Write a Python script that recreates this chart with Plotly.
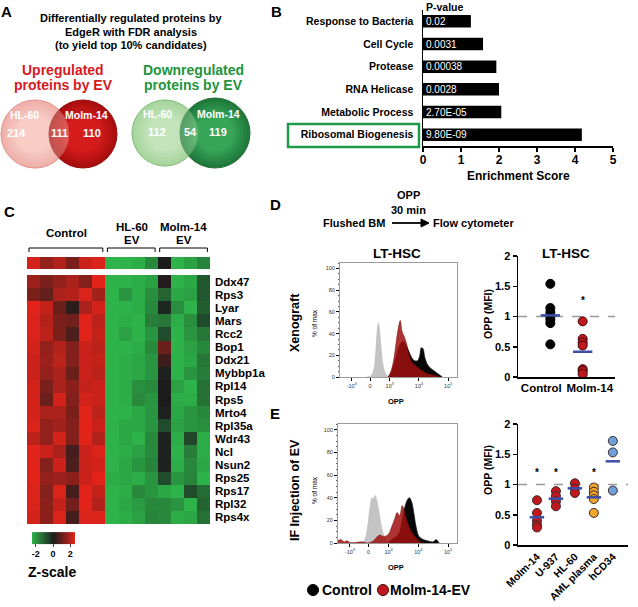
import numpy as np
import plotly.graph_objects as go

W, H = 638, 607
FONT = "Liberation Sans, Arial, Helvetica, sans-serif"


def X(p):
    return p / W


def Y(p):
    return 1 - p / H


# ---------------- data ----------------
venn_sets = ["HL-60", "Molm-14"]
venn_up_counts = [214, 111, 110]      # HL-60 only, shared, Molm-14 only
venn_down_counts = [112, 54, 119]

go_terms = ["Response to Bacteria", "Cell Cycle", "Protease", "RNA Helicase",
            "Metabolic Process", "Ribosomal Biogenesis"]
enrichment = [1.26, 1.58, 1.93, 2.0, 2.06, 4.18]
go_pvalues = ["0.02", "0.0031", "0.00038", "0.0028", "2.70E-05", "9.80E-09"]

genes = ["Ddx47", "Rps3", "Lyar", "Mars", "Rcc2", "Bop1", "Ddx21", "Mybbp1a", "Rpl14",
         "Rps5", "Mrto4", "Rpl35a", "Wdr43", "Ncl", "Nsun2", "Rps25", "Rps17", "Rpl32", "Rps4x"]
sample_groups = ["Control"] * 6 + ["HL-60<br>EV"] * 4 + ["Molm-14<br>EV"] * 4
z_summary = [2.3, 1.5, 1.9, 1.2, 2.2, 2.4, -2.5, -2.5, -2.4, -1.8, 0.0, -2.5, -2.2, -1.7]
z_genes = [
    [1.6, 1.2, 1.5, 1.8, 1.3, 2.5, -2.5, -2.5, -2.4, -2.2, 0.1, -2.5, -2.3, -1.0],
    [1.2, 0.9, 1.8, 1.9, 2.4, 1.7, -2.5, -2.0, -2.4, -1.9, -1.2, -2.3, -2.2, -1.0],
    [2.6, 2.1, 1.0, 0.2, 1.8, 2.3, -2.5, -2.5, -2.4, -1.8, -0.2, -1.9, -2.6, -1.1],
    [2.4, 1.9, 1.2, 1.1, 2.5, 2.0, -2.5, -2.4, -2.5, -1.6, -1.5, -2.4, -1.9, -0.8],
    [2.4, 2.0, 1.2, 0.6, 2.5, 2.1, -2.5, -2.2, -2.5, -2.0, -0.8, -2.5, -2.0, -1.5],
    [2.3, 1.5, 1.9, 1.3, 2.2, 2.0, -2.5, -2.5, -2.4, -1.8, 1.0, -2.5, -2.2, -1.8],
    [2.2, 1.6, 2.0, 1.3, 2.2, 2.1, -2.5, -2.4, -2.3, -2.0, 0.4, -2.5, -2.3, -1.5],
    [2.2, 1.5, 1.8, 1.0, 2.2, 2.0, -2.5, -2.4, -2.3, -2.0, -0.1, -2.5, -2.0, -1.6],
    [2.3, 1.2, 1.8, 1.4, 2.1, 2.2, -2.5, -2.4, -1.9, -1.8, 0.0, -2.2, -2.6, -1.4],
    [2.3, 1.0, 2.3, 1.3, 2.3, 2.2, -2.5, -2.4, -1.8, -2.0, 0.0, -2.4, -2.4, -1.4],
    [2.3, 1.8, 1.8, 1.2, 2.6, 2.0, -2.5, -2.5, -2.3, -2.0, -0.1, -2.3, -2.0, -1.8],
    [2.4, 1.5, 1.7, 1.3, 2.5, 2.2, -2.5, -2.3, -2.3, -2.0, -0.8, -2.2, -2.0, -1.9],
    [2.0, 1.5, 2.3, 1.3, 2.6, 1.9, -2.5, -2.3, -2.5, -1.8, -0.1, -2.4, -0.7, -2.4],
    [2.8, 2.2, 1.8, 0.5, 2.2, 2.4, -2.5, -2.4, -2.2, -1.8, -0.1, -2.5, -1.6, -2.4],
    [2.6, 1.3, 2.2, 0.6, 2.2, 2.3, -2.5, -2.3, -2.0, -1.7, -0.1, -2.4, -1.8, -2.3],
    [2.5, 1.5, 1.6, 1.4, 2.2, 2.5, -2.4, -2.3, -2.4, -2.0, -0.8, -2.0, -1.7, -2.6],
    [2.4, 1.3, 2.4, 0.5, 2.7, 2.1, -2.5, -2.4, -1.8, -2.0, -2.3, -2.5, -0.8, -1.3],
    [2.4, 1.4, 2.1, 1.1, 2.8, 1.9, -2.5, -2.3, -2.1, -1.8, -1.8, -2.0, -2.5, -1.2],
    [2.3, 1.4, 2.4, 0.5, 2.4, 2.4, -2.5, -2.4, -2.2, -1.7, -1.8, -2.4, -2.3, -1.4],
]

# flow histograms (x in biexponential display units, y = % of max)
hist_tickvals = [1.7, 2.33, 3, 4, 5]
hist_ticktext = ["-10<sup>3</sup>", "0", "10<sup>3</sup>", "10<sup>4</sup>", "10<sup>5</sup>"]
d_grey_x = [2.2, 2.35, 2.45, 2.52, 2.57, 2.61, 2.65, 2.7, 2.78, 2.88, 2.98]
d_grey_y = [0, 1, 6, 22, 42, 50, 44, 28, 10, 2, 0]
d_ctrl_x = [2.95, 3.05, 3.15, 3.25, 3.35, 3.45, 3.55, 3.65, 3.75, 3.85, 3.95, 4.02, 4.08, 4.14,
            4.2, 4.3, 4.4, 4.5, 4.6, 4.7, 4.8]
d_ctrl_y = [0, 4, 12, 22, 30, 33, 30, 24, 18, 15, 15, 19, 27, 26, 18, 11, 8, 6, 4, 2, 0]
d_ev_x = [2.95, 3.05, 3.15, 3.22, 3.3, 3.36, 3.42, 3.5, 3.58, 3.66, 3.75, 3.85, 3.95, 4.05,
          4.15, 4.3, 4.45, 4.6, 4.7]
d_ev_y = [0, 6, 18, 32, 46, 52, 42, 37, 30, 20, 14, 11, 9, 7, 5, 3, 2, 1, 0]
e_grey_x = [2.1, 2.2, 2.3, 2.38, 2.45, 2.5, 2.55, 2.6, 2.66, 2.72, 2.8, 2.9, 3.0]
e_grey_y = [0, 3, 15, 32, 40, 39, 42, 38, 30, 20, 10, 3, 0]
e_ctrl_x = [3.0, 3.1, 3.34, 3.44, 3.53, 3.63, 3.7, 3.78, 3.84, 3.92, 4.02, 4.17, 4.3, 4.5,
            4.6, 4.7]
e_ctrl_y = [0, 3, 8, 18, 30, 38, 40, 36, 28, 15, 6, 3, 2, 1, 3, 0]
e_ev_x = [1.3, 1.4, 1.5, 1.6, 1.7, 1.9, 2.1, 2.3, 2.5, 2.6, 2.7, 2.8, 2.9, 3.0, 3.1, 3.19,
          3.29, 3.37, 3.46, 3.51, 3.61, 3.73, 3.87, 4.02, 4.12]
e_ev_y = [2, 3, 1, 2, 0.5, 0.5, 1, 0, 2, 5, 7, 6, 6, 8, 14, 20, 27, 24, 33, 30, 20, 12, 6, 2, 0]

# OPP MFI dot plots
d_groups = ["Control", "Molm-14"]
d_control = [1.54, 1.14, 1.07, 1.0, 0.95, 0.89, 0.54]
d_molm = [0.92, 0.63, 0.57, 0.52, 0.13, 0.1, 0.05]
d_sig = ["", "*"]
legend_names = ["Control", "Molm-14-EV"]

e_groups = ["Molm-14", "U-937", "HL-60", "AML plasma", "hCD34"]
e_values = [
    [0.74, 0.53, 0.40, 0.33, 0.29],
    [0.89, 0.81, 0.72, 0.64],
    [1.02, 0.93, 0.86],
    [0.95, 0.88, 0.82, 0.76, 0.53],
    [1.72, 1.53, 0.90],
]
e_colors = ["#c0181e", "#c0181e", "#c0181e", "#f2a52b", "#6f9fd8"]
e_sig = ["*", "*", "", "*", ""]

# ---------------- figure ----------------
fig = go.Figure()
BOLD = dict(family=FONT, color="black", weight="bold")
RED = "#c0181e"

# B: enrichment bars
fig.add_trace(go.Bar(
    x=enrichment, y=go_terms, orientation="h", marker=dict(color="black", line=dict(width=0)),
    width=0.55, text=go_pvalues, textposition="inside", insidetextanchor="start",
    textfont=dict(family=FONT, color="white", size=10), constraintext="none",
    xaxis="x", yaxis="y", showlegend=False, hoverinfo="skip"))

# C: heatmaps
ncol = len(sample_groups)
fig.add_trace(go.Heatmap(z=z_genes, x=list(range(ncol)), y=genes, coloraxis="coloraxis",
                         xaxis="x2", yaxis="y2", hoverinfo="skip"))
fig.add_trace(go.Heatmap(z=[z_summary], x=list(range(ncol)), y=["all"], coloraxis="coloraxis",
                         xaxis="x3", yaxis="y3", hoverinfo="skip"))

# D/E histograms
def hist(xs, ys, fill, line, xa, ya):
    fig.add_trace(go.Scatter(x=xs, y=ys, mode="lines", fill="tozeroy", fillcolor=fill,
                             line=dict(color=line, width=0.6, shape="spline"),
                             xaxis=xa, yaxis=ya, showlegend=False, hoverinfo="skip"))

hist(d_grey_x, d_grey_y, "#c4c4c4", "#b8b8b8", "x4", "y4")
hist(d_ctrl_x, d_ctrl_y, "#080808", "#080808", "x4", "y4")
hist(d_ev_x, d_ev_y, "rgba(160,15,15,0.85)", "rgba(120,10,10,0.9)", "x4", "y4")
hist(e_grey_x, e_grey_y, "#c4c4c4", "#b8b8b8", "x5", "y5")
hist(e_ctrl_x, e_ctrl_y, "#080808", "#080808", "x5", "y5")
hist(e_ev_x, e_ev_y, "rgba(160,15,15,0.85)", "rgba(120,10,10,0.9)", "x5", "y5")

# D dot plot
MK = 9
fig.add_trace(go.Scatter(x=[1] * len(d_control), y=d_control, mode="markers",
                         marker=dict(size=MK, color="black", line=dict(color="black", width=1)),
                         xaxis="x6", yaxis="y6", showlegend=False, hoverinfo="skip"))
fig.add_trace(go.Scatter(x=[2] * len(d_molm), y=d_molm, mode="markers",
                         marker=dict(size=MK, color=RED, line=dict(color="#3a0a0a", width=1)),
                         xaxis="x6", yaxis="y6", showlegend=False, hoverinfo="skip"))
for i, vals in enumerate([d_control, d_molm]):
    m = float(np.mean(vals))
    fig.add_trace(go.Scatter(x=[i + 1 - 0.3, i + 1 + 0.3], y=[m, m], mode="lines",
                             line=dict(color="#3d4ea6", width=2.5), xaxis="x6", yaxis="y6",
                             showlegend=False, hoverinfo="skip"))

# E dot plot
for i, vals in enumerate(e_values):
    fig.add_trace(go.Scatter(x=[i] * len(vals), y=vals, mode="markers",
                             marker=dict(size=MK, color=e_colors[i], line=dict(color="#3a2a2a", width=1)),
                             xaxis="x7", yaxis="y7", showlegend=False, hoverinfo="skip"))
    m = float(np.mean(vals))
    fig.add_trace(go.Scatter(x=[i - 0.38, i + 0.38], y=[m, m], mode="lines",
                             line=dict(color="#3d4ea6", width=2.5), xaxis="x7", yaxis="y7",
                             showlegend=False, hoverinfo="skip"))

shapes = []
ann = []


def text(x, y, s, size, color="black", bold=True, xanchor="center", angle=0, ref=("paper", "paper")):
    ann.append(dict(x=x, y=y, xref=ref[0], yref=ref[1], text=(f"<b>{s}</b>" if bold else s),
                    showarrow=False, xanchor=xanchor, yanchor="middle", textangle=angle,
                    font=dict(family=FONT, size=size, color=color)))


def mix(c1, c2, t):
    a = [int(c1[i:i + 2], 16) for i in (1, 3, 5)]
    b = [int(c2[i:i + 2], 16) for i in (1, 3, 5)]
    return "#" + "".join(f"{round(u + (v - u) * t):02x}" for u, v in zip(a, b))


def shaded_circle(cx, cy, r, edge, centre, line, n=6):
    # a soft radial shading built from concentric discs
    for k in range(n):
        rr = r * (1 - 0.45 * k / (n - 1))
        shapes.append(dict(type="circle", xref="x8", yref="y8", x0=cx - rr, x1=cx + rr,
                           y0=cy - rr, y1=cy + rr, fillcolor=mix(edge, centre, k / (n - 1)),
                           line=dict(color=line if k == 0 else "rgba(0,0,0,0)", width=1)))


# ---- panel A: Venn diagrams (axis x8/y8 in pixel units) ----
def venn(cxl, cxr, cy, rl, rr, left_cols, right_cols, counts, name_x, count_x):
    shaded_circle(cxl, cy, rl, *left_cols)
    shaded_circle(cxr, cy, rr, *right_cols)
    shapes.append(dict(type="circle", xref="x8", yref="y8", x0=cxl - rl, x1=cxl + rl,
                       y0=cy - rl, y1=cy + rl, fillcolor=left_cols[1], opacity=0.35,
                       line=dict(color=left_cols[2], width=1)))
    for nx, s in zip(name_x, venn_sets):
        text(nx, cy - 19, s, 10.5, "white", ref=("x8", "y8"))
    for cx, c in zip(count_x, counts):
        text(cx, cy - 1, str(c), 11, "white", ref=("x8", "y8"))


venn(35, 83, 134, 34, 34, ("#eba39a", "#f7cdc6", "#e3968d"), ("#a80e0e", "#d41c1c", "#9a0c0c"),
     venn_up_counts, (24, 86), (16, 59, 92))
venn(165, 215, 133, 33, 35, ("#98cd8e", "#c3e4bb", "#86bf7c"), ("#207a3c", "#36a558", "#1e6e36"),
     venn_down_counts, (157, 218), (157, 190, 218))

text(X(6), Y(12), "A", 15)
text(X(131), Y(18), "Differentially regulated proteins by", 11)
text(X(131), Y(32), "EdgeR with FDR analysis", 11)
text(X(131), Y(45), "(to yield top 10% candidates)", 11)
text(X(63), Y(70), "Upregulated", 14, "#d7191f")
text(X(63), Y(85), "proteins by EV", 14, "#d7191f")
text(X(193), Y(70), "Downregulated", 14, "#23943b")
text(X(193), Y(85), "proteins by EV", 14, "#23943b")

# ---- panel B ----
text(X(276), Y(11), "B", 15)
text(X(445), Y(7), "P-value", 10.5)
text(X(518), Y(176), "Enrichment Score", 12)
shapes.append(dict(type="rect", xref="paper", yref="paper", x0=X(288), x1=X(419),
                   y0=Y(147), y1=Y(124), line=dict(color="#1f9a48", width=2.5)))

# ---- panel C ----
text(X(9), Y(211), "C", 15)
groups = []
for i, g in enumerate(sample_groups):
    if not groups or groups[-1][0] != g:
        groups.append([g, i, i])
    else:
        groups[-1][2] = i
for g, a, b in groups:
    lines = g.split("<br>")
    cx = (a + b) / 2
    if len(lines) == 1:
        text(cx, Y(233), lines[0], 11.5, ref=("x2", "paper"))
    else:
        text(cx, Y(227), lines[0], 11.5, ref=("x2", "paper"))
        text(cx, Y(240), lines[1], 11.5, ref=("x2", "paper"))
    shapes.append(dict(type="path", xref="x2", yref="paper",
                       path=f"M {a - 0.35},{Y(252)} L {a - 0.35},{Y(248)} L {b + 0.3},{Y(248)} L {b + 0.3},{Y(252)}",
                       line=dict(color="black", width=1)))
text(X(52), Y(572), "Z-scale", 14)

# ---- panel D ----
text(X(275), Y(204), "D", 15)
text(X(408), Y(195), "OPP", 11)
text(X(408), Y(210), "30 min", 11)
text(X(354), Y(223), "Flushed BM", 11)
text(X(473), Y(223), "Flow cytometer", 11)
shapes.append(dict(type="line", xref="paper", yref="paper", x0=X(392), x1=X(423),
                   y0=Y(223), y1=Y(223), line=dict(color="black", width=1.8)))
shapes.append(dict(type="path", xref="paper", yref="paper",
                   path=f"M {X(421)},{Y(219)} L {X(429)},{Y(223)} L {X(421)},{Y(227)} Z",
                   fillcolor="black", line=dict(color="black", width=1)))
text(X(397), Y(254), "LT-HSC", 13.5)
text(X(566), Y(254), "LT-HSC", 13.5)
text(X(295), Y(323), "Xenograft", 12.5, angle=-90)
text(X(314), Y(323), "% of max", 6.5, bold=False, angle=-90)
text(X(396), Y(401), "OPP", 7.5)
text(X(488), Y(314), "OPP (MFI)", 10.5, angle=-90)
for i, s in enumerate(d_sig):
    if s:
        text(i + 1, 1.27, s, 10, ref=("x6", "y6"))

# ---- panel E ----
text(X(275), Y(413), "E", 15)
text(X(295), Y(490), "IF Injection of EV", 12.5, angle=-90)
text(X(314), Y(490), "% of max", 6.5, bold=False, angle=-90)
text(X(396), Y(567), "OPP", 7.5)
text(X(488), Y(470), "OPP (MFI)", 10.5, angle=-90)
for i, s in enumerate(e_sig):
    if s:
        text(i, 1.2, s, 10, ref=("x7", "y7"))

for ya, xa in (("y6", "x6"), ("y7", "x7")):
    shapes.append(dict(type="line", xref=f"{xa} domain", yref=ya, x0=0, x1=1, y0=1, y1=1,
                       line=dict(color="#999999", width=1.5, dash="dash"), layer="below"))

# ---- bottom legend (drawn by hand to keep the tight spacing) ----
for (dx, tx), name, col, edge in zip(((313, 347), (383, 430)), legend_names,
                                     ("black", RED), ("black", "#3a0a0a")):
    shapes.append(dict(type="circle", xref="paper", yref="paper", x0=X(dx - 5.5), x1=X(dx + 5.5),
                       y0=Y(595.5), y1=Y(584.5), fillcolor=col, line=dict(color=edge, width=1)))
    text(X(tx), Y(590), name, 14)

AX_OFF = dict(visible=False, showgrid=False, zeroline=False, automargin=False)
hist_x = dict(range=[1.3, 5.3], tickvals=hist_tickvals, ticktext=hist_ticktext, ticks="outside",
              ticklen=3, tickcolor="black", tickfont=dict(family=FONT, size=5.5, color="#333"),
              showline=True, mirror=True, linecolor="#9a9a9a", linewidth=1, showgrid=False,
              zeroline=False, automargin=False)
hist_y = dict(range=[0, 105], tickvals=[0, 20, 40, 60, 80, 100], ticks="outside", ticklen=3,
              tickcolor="black", tickfont=dict(family=FONT, size=5.5, color="#333"),
              showline=True, mirror=True, linecolor="#9a9a9a", linewidth=1, showgrid=False,
              zeroline=False, automargin=False,
              minor=dict(ticks="outside", ticklen=1.5, dtick=5, tickcolor="#555"))
dot_y = dict(range=[0, 2], dtick=0.5, ticks="outside", ticklen=4, tickwidth=1.5, tickcolor="black",
             showline=True, linecolor="black", linewidth=1.5, showgrid=False, zeroline=False,
             tickfont=dict(size=11, **BOLD), automargin=False)

fig.update_layout(
    template="none",
    width=W, height=H, margin=dict(l=0, r=0, t=0, b=0, pad=0, autoexpand=False),
    paper_bgcolor="white", plot_bgcolor="white",
    font=dict(family=FONT, color="black"),
    showlegend=False,
    xaxis=dict(domain=[X(423), X(613)], anchor="y", range=[0, 5], tickvals=[0, 1, 2, 3, 4, 5],
               ticks="outside", ticklen=4, tickwidth=1.5, tickcolor="black", showline=True,
               linecolor="black", linewidth=1.5, showgrid=False, zeroline=False,
               tickfont=dict(size=12, **BOLD), ticklabelstandoff=-2, automargin=False),
    yaxis=dict(domain=[Y(146), Y(10)], anchor="x", categoryorder="array", categoryarray=go_terms,
               autorange="reversed", showline=True, linecolor="black", linewidth=1.5,
               ticks="", showgrid=False, tickfont=dict(size=10.5, **BOLD), ticklabelstandoff=6,
               automargin=False),
    xaxis2=dict(domain=[X(27), X(210)], anchor="y2", range=[-0.5, ncol - 0.5], **AX_OFF),
    yaxis2=dict(domain=[Y(524), Y(275)], anchor="x2", autorange="reversed", side="right",
                tickmode="array", tickvals=genes, ticktext=genes,
                showgrid=False, zeroline=False, ticks="", showline=False,
                tickfont=dict(size=11.5, **BOLD), ticklabelstandoff=4, automargin=False),
    xaxis3=dict(domain=[X(27), X(210)], anchor="y3", range=[-0.5, ncol - 0.5], **AX_OFF),
    yaxis3=dict(domain=[Y(269), Y(257)], anchor="x3", **AX_OFF),
    xaxis4=dict(domain=[X(340), X(457)], anchor="y4", **hist_x),
    yaxis4=dict(domain=[Y(377), Y(263)], anchor="x4", **hist_y),
    xaxis5=dict(domain=[X(338), X(457)], anchor="y5", **hist_x),
    yaxis5=dict(domain=[Y(543), Y(424)], anchor="x5", **hist_y),
    xaxis6=dict(domain=[X(518), X(615)], anchor="y6", range=[0, 3], tickvals=[0.72, 2.22],
                ticktext=d_groups, ticks="", showline=True, linecolor="black", linewidth=1.5,
                showgrid=False, zeroline=False, tickfont=dict(size=11.5, **BOLD), automargin=False),
    yaxis6=dict(domain=[Y(377), Y(256)], anchor="x6", **dot_y),
    xaxis7=dict(domain=[X(518), X(628)], anchor="y7", range=[-1, 4.8],
                tickvals=list(range(len(e_groups))), ticktext=e_groups, tickangle=-45, ticks="",
                showline=True, linecolor="black", linewidth=1.5, showgrid=False, zeroline=False,
                tickfont=dict(size=10.5, **BOLD), automargin=False),
    yaxis7=dict(domain=[Y(545), Y(424)], anchor="x7", **dot_y),
    xaxis8=dict(domain=[0, X(260)], anchor="y8", range=[0, 260], **AX_OFF),
    yaxis8=dict(domain=[Y(175), Y(95)], anchor="x8", range=[175, 95], **AX_OFF),
    coloraxis=dict(colorscale=[[0, "#2db34a"], [0.5, "#1c1c1c"], [1, "#e2231a"]],
                   cmin=-2.5, cmax=2.5,
                   colorbar=dict(orientation="h", x=X(53), xanchor="center", y=Y(546),
                                 yanchor="middle", len=43, lenmode="pixels", thickness=12,
                                 tickvals=[-2, 0, 2], ticktext=["-2", "0", "2"],
                                 ticks="outside", ticklen=3, outlinewidth=0, xpad=0, ypad=0,
                                 tickfont=dict(size=9, **BOLD))),
    shapes=shapes, annotations=ann,
)

fig.write_html("out.html", config={"displayModeBar": False, "staticPlot": True},
               post_script="document.body.style.margin='0';document.body.style.overflow='hidden';")
